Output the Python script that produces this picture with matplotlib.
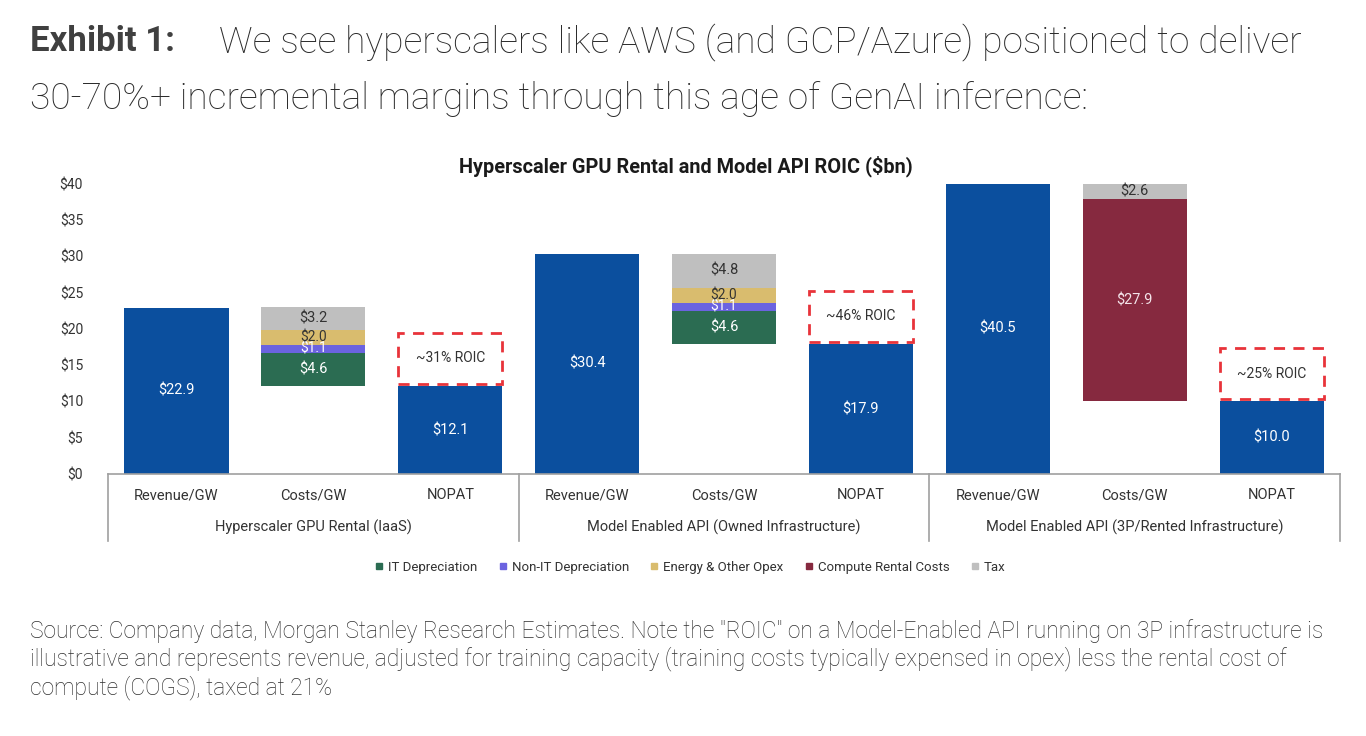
import matplotlib
matplotlib.use("Agg")
import matplotlib.pyplot as plt
from matplotlib.patches import Rectangle

# data ($bn per GW)
groups = ["Hyperscaler GPU Rental (IaaS)",
          "Model Enabled API (Owned Infrastructure)",
          "Model Enabled API (3P/Rented Infrastructure)"]
steps = ["Revenue/GW", "Costs/GW", "NOPAT"]
revenue = [22.9, 30.4, 40.5]
nopat = [12.1, 17.9, 10.0]
it_dep = [4.6, 4.6, 0.0]
non_it_dep = [1.1, 1.1, 0.0]
energy = [2.0, 2.0, 0.0]
compute_rental = [0.0, 0.0, 27.9]
tax = [3.2, 4.8, 2.6]
roic = ["~31% ROIC", "~46% ROIC", "~25% ROIC"]
yticks = [0, 5, 10, 15, 20, 25, 30, 35, 40]

BLUE = "#0B4F9E"
cost_parts = [
    ("IT Depreciation", it_dep, "#2B6C52", "white"),
    ("Non-IT Depreciation", non_it_dep, "#6B63E0", "white"),
    ("Energy & Other Opex", energy, "#D9BC6E", "#333333"),
    ("Compute Rental Costs", compute_rental, "#86293F", "#F4E4EA"),
    ("Tax", tax, "#BFBFBF", "#333333"),
]

FONT = ["Roboto", "DejaVu Sans"]
plt.rcParams["font.family"] = FONT

fig = plt.figure(figsize=(13.66, 7.36), dpi=100)
ax = fig.add_axes([0.0791, 0.356, 0.9019, 0.394])
YMAX = 40
W = 0.76

def label(x, lo, hi, txt, col, fs=10.5):
    hi = min(hi, YMAX)
    ax.text(x, (lo + hi) / 2, txt, ha="center", va="center", color=col,
            fontsize=fs)

for g in range(3):
    x0 = g * 3
    # revenue
    ax.bar(x0, revenue[g], W, color=BLUE)
    label(x0, 0, revenue[g], f"${revenue[g]:.1f}", "white")
    # costs stacked on top of NOPAT
    base = nopat[g]
    for name, vals, col, tcol in cost_parts:
        v = vals[g]
        if v <= 0:
            continue
        ax.bar(x0 + 1, v, W, bottom=base, color=col)
        # thin slices get a slightly smaller label
        label(x0 + 1, base, base + v, f"${v:.1f}", tcol,
              fs=10.5 if v > 2.5 else 9.8)
        base += v
    # NOPAT
    ax.bar(x0 + 2, nopat[g], W, color=BLUE)
    label(x0 + 2, 0, nopat[g], f"${nopat[g]:.1f}", "white")
    box = Rectangle((x0 + 2 - W / 2, nopat[g] + 0.3), W, 7.1, fill=False,
                    edgecolor="#E8333A", linestyle=(0, (4, 3)), linewidth=2)
    ax.add_patch(box)
    ax.text(x0 + 2, nopat[g] + 0.3 + 3.55, roic[g], ha="center", va="center",
            color="#333333", fontsize=10)

ax.set_xlim(-0.5, 8.5)
ax.set_ylim(0, YMAX)
ax.set_yticks(yticks)
ax.set_yticklabels([f"${t}" for t in yticks], fontsize=10, color="#333333")
ax.tick_params(axis="y", length=0, pad=18)
ax.tick_params(axis="x", length=0)
ax.set_xticks([])
for s in ["top", "right", "left"]:
    ax.spines[s].set_visible(False)
ax.spines["bottom"].set_color("#A0A0A0")
ax.spines["bottom"].set_linewidth(1.2)

# two-level category axis
for i in range(9):
    ax.text(i, -2.9, steps[i % 3], ha="center", va="center", fontsize=10.5,
            color="#333333")
for g in range(3):
    ax.text(g * 3 + 1, -7.3, groups[g], ha="center", va="center",
            fontsize=10.5, color="#333333")
for xs in [-0.5, 2.5, 5.5, 8.5]:
    ax.plot([xs, xs], [0, -9.2], color="#A0A0A0", lw=1.2, clip_on=False)

fig.text(0.502, 0.774, "Hyperscaler GPU Rental and Model API ROIC ($bn)",
         fontsize=14.3, fontweight="bold", color="#1A1A1A", ha="center",
         va="center")

# legend
handles = [plt.Line2D([], [], marker="s", ls="", color=c, markersize=5)
           for _, _, c, _ in cost_parts]
fig.legend(handles, [p[0] for p in cost_parts], loc="center",
           bbox_to_anchor=(0.505, 0.229), ncol=5, frameon=False,
           fontsize=9.5, handlelength=0.8, handletextpad=0.3,
           columnspacing=1.5, labelcolor="#333333")

# page heading and source note
fig.text(0.022, 0.943, "Exhibit 1:", fontsize=25, fontweight="bold",
         color="#404040", va="center")
fig.text(0.16, 0.943, "We see hyperscalers like AWS (and GCP/Azure) positioned to deliver",
         fontsize=26.7, fontweight="light", color="#2A2A2A", va="center")
fig.text(0.022, 0.866, "30-70%+ incremental margins through this age of GenAI inference:",
         fontsize=26.7, fontweight="light", color="#2A2A2A", va="center")
note = ('Source: Company data, Morgan Stanley Research Estimates. Note the "ROIC" on a '
        'Model-Enabled API running on 3P infrastructure is\n'
        'illustrative and represents revenue, adjusted for training capacity '
        '(training costs typically expensed in opex) less the rental cost of\n'
        'compute (COGS), taxed at 21%')
fig.text(0.022, 0.159, note, fontsize=16.4, fontweight="light",
         color="#2E2E2E", va="top", linespacing=1.2)

fig.savefig("out.png", dpi=100)
